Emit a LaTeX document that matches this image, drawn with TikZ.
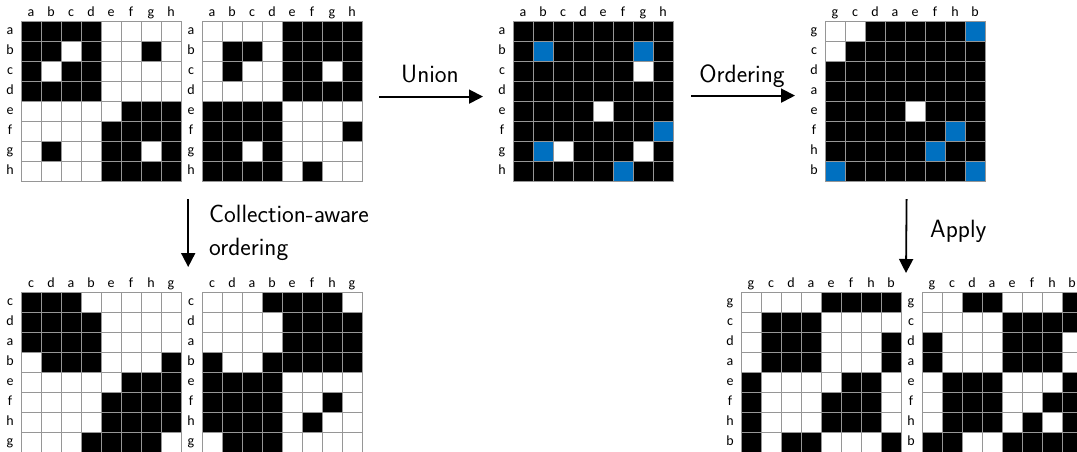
\documentclass[tikz,border=0pt]{standalone}
\usepackage{fontspec}
\newfontfamily\labfont{Carlito}
\usetikzlibrary{arrows.meta}
\definecolor{cblue}{RGB}{0,112,192}
\definecolor{gridgray}{RGB}{150,150,150}
\tikzset{
 lab/.style={font=\labfont\fontsize{14}{14}\selectfont, inner sep=0},
 gridline/.style={draw=gridgray, line width=1pt},
 arr/.style={line width=1.8pt, -{Triangle[length=14pt,width=14pt]}},
 caption/.style={font=\sffamily\fontsize{25}{30}\selectfont, inner sep=0},
 matbox/.style={inner sep=0, minimum width=160pt, minimum height=160pt, anchor=north west, draw=gridgray, line width=1.2pt}
}
\newcommand\drawmat[5]{%
 \begin{scope}[shift={(#2,-#3)}]
  \foreach \r [count=\i from 0] in {#5} {
   \foreach \v [count=\j from 0] in \r {
     \ifcase\v\relax \def\cc{white}\or\def\cc{black}\or\def\cc{cblue}\fi
     \fill[fill=\cc] (\j*20,-\i*20) rectangle ++(20,-20);
   }
  }
  \foreach \k in {1,...,7} {
    \draw[gridline] (\k*20,0) -- (\k*20,-160);
    \draw[gridline] (0,-\k*20) -- (160,-\k*20);
  }
  \node[matbox] (#1) at (0,0) {};
  \foreach \l [count=\k from 0] in {#4} {
    \node[lab, anchor=base] (#1-c\k) at (\k*20+10, 5) {\l};
    \node[lab, anchor=base] (#1-r\k) at (-11, -\k*20-13.5) {\l};
  }
 \end{scope}}
\begin{document}
\begin{tikzpicture}[x=1pt,y=1pt]
\useasboundingbox[fill=white] (0,0) rectangle (1077,-451);

\drawmat{m1}{21}{21}{a,b,c,d,e,f,g,h}{%
{1,1,1,1,0,0,0,0},{1,1,0,1,0,0,1,0},{1,0,1,1,0,0,0,0},{1,1,1,1,0,0,0,0},%
{0,0,0,0,0,1,1,1},{0,0,0,0,1,1,1,1},{0,1,0,0,1,1,0,1},{0,0,0,0,1,1,1,1}}

\drawmat{m2}{202}{21}{a,b,c,d,e,f,g,h}{%
{0,0,0,0,1,1,1,1},{0,1,1,0,1,1,1,1},{0,1,0,0,1,1,0,1},{0,0,0,0,1,1,1,1},%
{1,1,1,1,0,0,0,0},{1,1,1,1,0,0,0,1},{1,1,0,1,0,0,0,0},{1,1,1,1,0,1,0,0}}

\drawmat{m3}{513}{21}{a,b,c,d,e,f,g,h}{%
{1,1,1,1,1,1,1,1},{1,2,1,1,1,1,2,1},{1,1,1,1,1,1,0,1},{1,1,1,1,1,1,1,1},%
{1,1,1,1,0,1,1,1},{1,1,1,1,1,1,1,2},{1,2,0,1,1,1,0,1},{1,1,1,1,1,2,1,1}}

\drawmat{m4}{825}{21}{g,c,d,a,e,f,h,b}{%
{0,0,1,1,1,1,1,2},{0,1,1,1,1,1,1,1},{1,1,1,1,1,1,1,1},{1,1,1,1,1,1,1,1},%
{1,1,1,1,0,1,1,1},{1,1,1,1,1,1,2,1},{1,1,1,1,1,2,1,1},{2,1,1,1,1,1,1,2}}

\drawmat{m5}{21}{292}{c,d,a,b,e,f,h,g}{%
{1,1,1,0,0,0,0,0},{1,1,1,1,0,0,0,0},{1,1,1,1,0,0,0,0},{0,1,1,1,0,0,0,1},%
{0,0,0,0,0,1,1,1},{0,0,0,0,1,1,1,1},{0,0,0,0,1,1,1,1},{0,0,0,1,1,1,1,0}}

\drawmat{m6}{202}{292}{c,d,a,b,e,f,h,g}{%
{0,0,0,1,1,1,1,0},{0,0,0,0,1,1,1,1},{0,0,0,0,1,1,1,1},{1,0,0,1,1,1,1,1},%
{1,1,1,1,0,0,0,0},{1,1,1,1,0,0,1,0},{1,1,1,1,0,1,0,0},{0,1,1,1,0,0,0,0}}

\drawmat{m7}{741}{292}{g,c,d,a,e,f,h,b}{%
{0,0,0,0,1,1,1,1},{0,1,1,1,0,0,0,0},{0,1,1,1,0,0,0,1},{0,1,1,1,0,0,0,1},%
{1,0,0,0,0,1,1,0},{1,0,0,0,1,1,1,0},{1,0,0,0,1,1,1,0},{1,0,1,1,0,0,0,1}}

\drawmat{m8}{922}{292}{g,c,d,a,e,f,h,b}{%
{0,0,1,1,0,0,0,1},{0,0,0,0,1,1,1,1},{1,0,0,0,1,1,1,0},{1,0,0,0,1,1,1,0},%
{0,1,1,1,0,0,0,1},{0,1,1,1,0,0,1,1},{0,1,1,1,0,1,0,1},{1,1,0,0,1,1,1,1}}

\draw[arr] ([shift={(16pt,5pt)}]m2.east) -- ([shift={(-30pt,5pt)}]m3.west);
\draw[arr] ([shift={(17pt,6pt)}]m3.east) -- ([shift={(-30pt,6pt)}]m4.west);
\draw[arr] ([shift={(6pt,-17pt)}]m1.south east) -- ([shift={(6pt,25pt)}]m5.north east);
\draw[arr] ([shift={(1pt,-17pt)}]m4.south) -- ([shift={(-16pt,19pt)}]m8.north west);

\node[caption, anchor=base] (union) at (430,-82) {Union};
\node[caption, anchor=base] (ordering) at (742,-82) {Ordering};
\node[caption, anchor=base west] (coll1) at (209,-222) {Collection-aware};
\node[caption, anchor=base west] (coll2) at (209,-255) {ordering};
\node[caption, anchor=base west] (apply) at (930,-237) {Apply};
\end{tikzpicture}
\end{document}
